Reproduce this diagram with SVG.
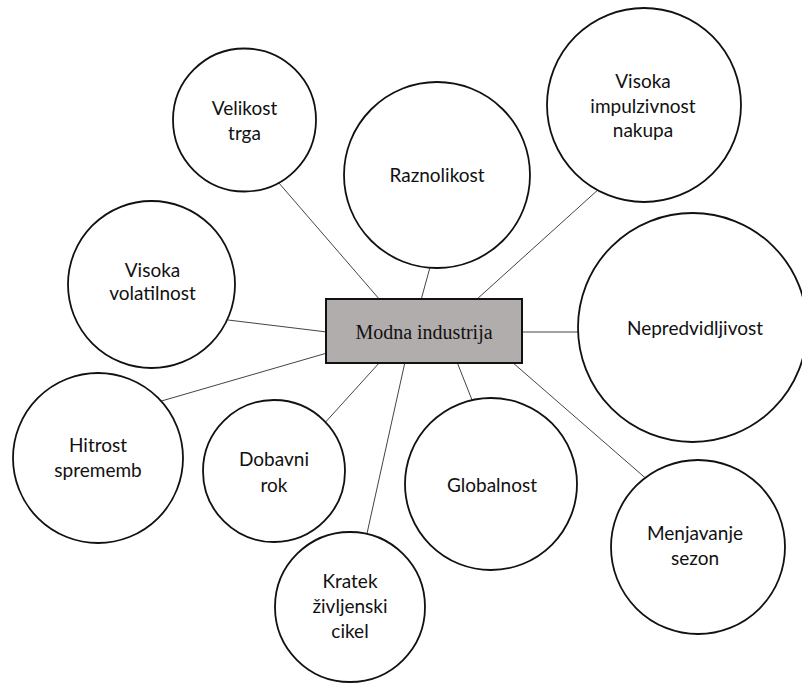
<svg xmlns="http://www.w3.org/2000/svg" width="802" height="684" viewBox="0 0 802 684">
<style>
.c{fill:#fff;stroke:#111;stroke-width:1.8}
.t{font-family:Lato,"Open Sans",sans-serif;font-size:19px;fill:#111;text-anchor:middle}
.l{stroke:#444;stroke-width:1;fill:none}
</style>
<rect width="802" height="684" fill="#fff"/>
<g id="connectors">
<line class="l" x1="380" y1="300" x2="272" y2="175"/>
<line class="l" x1="421" y1="300" x2="432" y2="260"/>
<line class="l" x1="476" y1="300" x2="600" y2="188"/>
<line class="l" x1="327" y1="332" x2="228" y2="320"/>
<line class="l" x1="327" y1="353" x2="158" y2="402"/>
<line class="l" x1="380" y1="362" x2="322" y2="426"/>
<line class="l" x1="405" y1="362" x2="366" y2="538"/>
<line class="l" x1="457" y1="362" x2="474" y2="405"/>
<line class="l" x1="512" y1="362" x2="650" y2="482"/>
<line class="l" x1="521" y1="332" x2="582" y2="332"/>
</g>
<g id="velikost"><circle class="c" cx="244.5" cy="120" r="71.5"/><text class="t" x="244.5" y="115">Velikost</text><text class="t" x="244.5" y="140">trga</text></g>
<g id="raznolikost"><circle class="c" cx="437" cy="175" r="93"/><text class="t" x="437" y="182">Raznolikost</text></g>
<g id="impulzivnost"><circle class="c" cx="644" cy="105" r="97"/><text class="t" x="643" y="88">Visoka</text><text class="t" x="643" y="113">impulzivnost</text><text class="t" x="643" y="137">nakupa</text></g>
<g id="volatilnost"><circle class="c" cx="151.5" cy="284.5" r="83.5"/><text class="t" x="152.5" y="277">Visoka</text><text class="t" x="152.5" y="300">volatilnost</text></g>
<g id="nepredvidljivost"><circle class="c" cx="692.5" cy="327.5" r="114.5"/><text class="t" x="695" y="335">Nepredvidljivost</text></g>
<g id="hitrost"><circle class="c" cx="98" cy="458" r="85"/><text class="t" x="98" y="452">Hitrost</text><text class="t" x="98" y="477">sprememb</text></g>
<g id="dobavni"><circle class="c" cx="274" cy="471" r="71"/><text class="t" x="274" y="466">Dobavni</text><text class="t" x="274" y="492">rok</text></g>
<g id="globalnost"><circle class="c" cx="491" cy="484" r="86"/><text class="t" x="492" y="492">Globalnost</text></g>
<g id="menjavanje"><circle class="c" cx="698" cy="547" r="87"/><text class="t" x="695" y="540">Menjavanje</text><text class="t" x="695" y="565">sezon</text></g>
<g id="kratek"><circle class="c" cx="350" cy="607" r="75"/><text class="t" x="350" y="588">Kratek</text><text class="t" x="350" y="613">življenski</text><text class="t" x="350" y="638">cikel</text></g>
<g id="modna"><rect x="326" y="299" width="196" height="64" fill="#b0adac" stroke="#111" stroke-width="2"/><text x="424" y="339" font-family="'Liberation Serif',serif" font-size="20" fill="#111" text-anchor="middle">Modna industrija</text></g>
</svg>
